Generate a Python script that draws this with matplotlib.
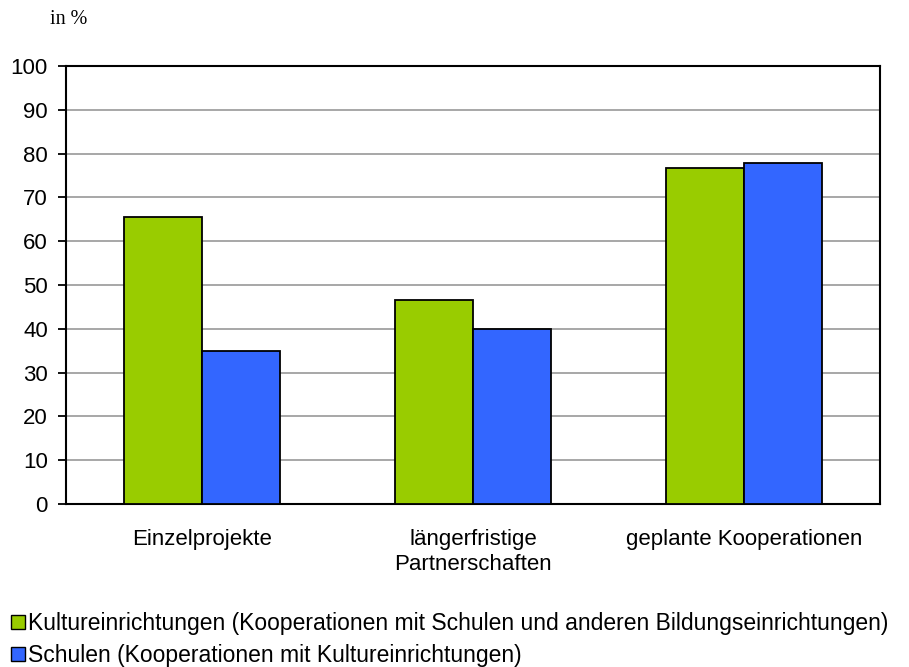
import matplotlib.pyplot as plt
import numpy as np
from matplotlib.patches import Patch

categories = ["Einzelprojekte", "längerfristige\nPartnerschaften", "geplante Kooperationen"]
kultur = [65.5, 46.5, 76.8]
schulen = [35.0, 39.9, 77.9]
series_labels = [
    "Kultureinrichtungen (Kooperationen mit Schulen und anderen Bildungseinrichtungen)",
    "Schulen (Kooperationen mit Kultureinrichtungen)",
]
yticks = list(range(0, 101, 10))

green = "#99cc00"
blue = "#3366ff"

plt.rcParams["font.family"] = ["Liberation Sans", "DejaVu Sans"]

fig = plt.figure(figsize=(9.09, 6.67), dpi=100)
ax = fig.add_axes([66 / 909, 1 - 504 / 667, 814 / 909, 438 / 667])

x = np.arange(len(categories))
w = 0.287
ax.bar(x - w / 2, kultur, w, color=green, edgecolor="black", linewidth=1.3, zorder=3)
ax.bar(x + w / 2, schulen, w, color=blue, edgecolor="black", linewidth=1.3, zorder=3)

ax.set_xlim(-0.5, 2.5)
ax.set_ylim(0, 100)
ax.set_yticks(yticks)
ax.tick_params(axis="y", direction="out", length=6, width=1.3, labelsize=16, pad=7)
ax.set_xticks(x)
ax.set_xticklabels(categories, fontsize=16, linespacing=1.25)
ax.tick_params(axis="x", length=0, pad=18)
ax.yaxis.grid(True, color="#a0a0a0", linewidth=1.3, zorder=0)
ax.set_axisbelow(True)
for s in ax.spines.values():
    s.set_linewidth(1.5)
    s.set_color("black")

fig.text(50 / 909, 1 - 19 / 667, "in %", family="Liberation Serif", fontsize=14.5, va="center")

handles = [Patch(facecolor=green, edgecolor="black"), Patch(facecolor=blue, edgecolor="black")]
fig.legend(handles, series_labels, loc="upper left", bbox_to_anchor=(2 / 909, 1 - 603 / 667),
           frameon=False, fontsize=16.5, handlelength=0.6, handleheight=0.6,
           handletextpad=0.15, labelspacing=0.38, borderaxespad=0)

fig.savefig("out.png", dpi=100)
